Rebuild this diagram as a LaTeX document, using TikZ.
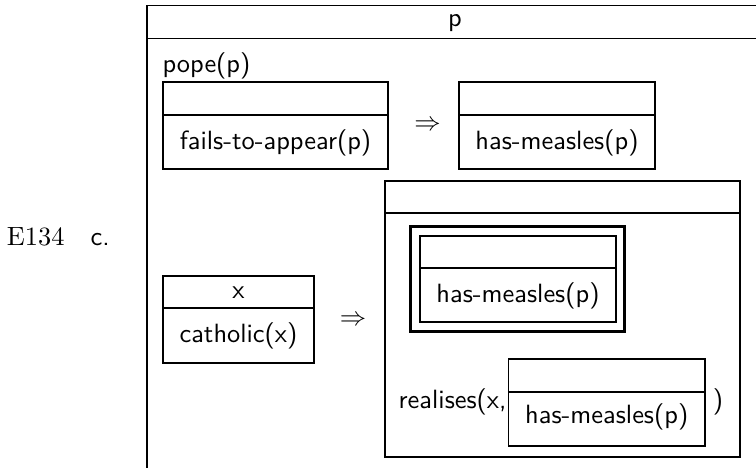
\documentclass[tikz,border=0pt]{standalone}
\usetikzlibrary{fit}
\begin{document}
\begin{tikzpicture}[x=0.3788pt,y=-0.3788pt,
  rule/.style={line width=0.45pt},
  frame/.style={draw, line width=0.45pt, inner sep=0pt},
  thick frame/.style={draw, line width=1.15pt, inner sep=0pt},
  cond/.style={font=\sffamily, inner sep=0pt, anchor=base},
  implies/.style={inner sep=0pt}]
\useasboundingbox (0,0) rectangle (756,467);
\clip (0,0) rectangle (756,467);

% example label
\node[inner sep=0pt, anchor=base east] (ex) at (65,245) {E134};
\node[cond, anchor=base west] (exc) at (90,245) {c.};

% outermost box, running past the right and bottom edges
\draw[rule] (800,5.5) -| (147,480);
\draw[rule] (147,38.5) -- (800,38.5);
\node[cond] (uref) at (455,26) {p};
\node[cond, anchor=base west] (pope) at (162,72) {pope(p)};

% fails-to-appear => has-measles
\node[frame, fit={(163,82) (388,169)}] (b1) {};
\draw[rule] (b1.west |- 0,115) -- (b1.east |- 0,115);
\node[cond] (b1c) at (275.5,149) {fails-to-appear(p)};
\node[implies] (imp1) at (427.5,126) {$\Rightarrow$};
\node[frame, fit={(459,82) (655,169)}] (b2) {};
\draw[rule] (b2.west |- 0,115) -- (b2.east |- 0,115);
\node[cond] (b2c) at (557,149) {has-measles(p)};

% catholic(x) => ...
\node[frame, fit={(163,276) (314,363)}] (cat) {};
\draw[rule] (cat.west |- 0,308) -- (cat.east |- 0,308);
\node[cond] (catu) at (238.5,298) {x};
\node[cond] (catc) at (238.5,342) {catholic(x)};
\node[implies] (imp2) at (353,321) {$\Rightarrow$};

% consequent box
\node[frame, fit={(385,181) (740,457)}] (big) {};
\draw[rule] (big.west |- 0,213) -- (big.east |- 0,213);

% boxed sub-DRS with heavy frame
\node[thick frame, fit={(410.5,226.5) (624.5,331.5)}] (heavy) {};
\node[frame, fit={(420,236) (616,322)}] (inner) {};
\draw[rule] (inner.west |- 0,268) -- (inner.east |- 0,268);
\node[cond] (innerc) at (518,302) {has-measles(p)};

% realises(x, [ ... ])
\node[cond, anchor=base east] (real) at (507,408) {realises(x,};
\node[frame, fit={(508.5,359) (705,446)}] (rbox) {};
\draw[rule] (rbox.west |- 0,392) -- (rbox.east |- 0,392);
\node[cond] (rboxc) at (606.75,423) {has-measles(p)};
\node[cond] (rclose) at (718,408) {)};
\end{tikzpicture}
\end{document}
